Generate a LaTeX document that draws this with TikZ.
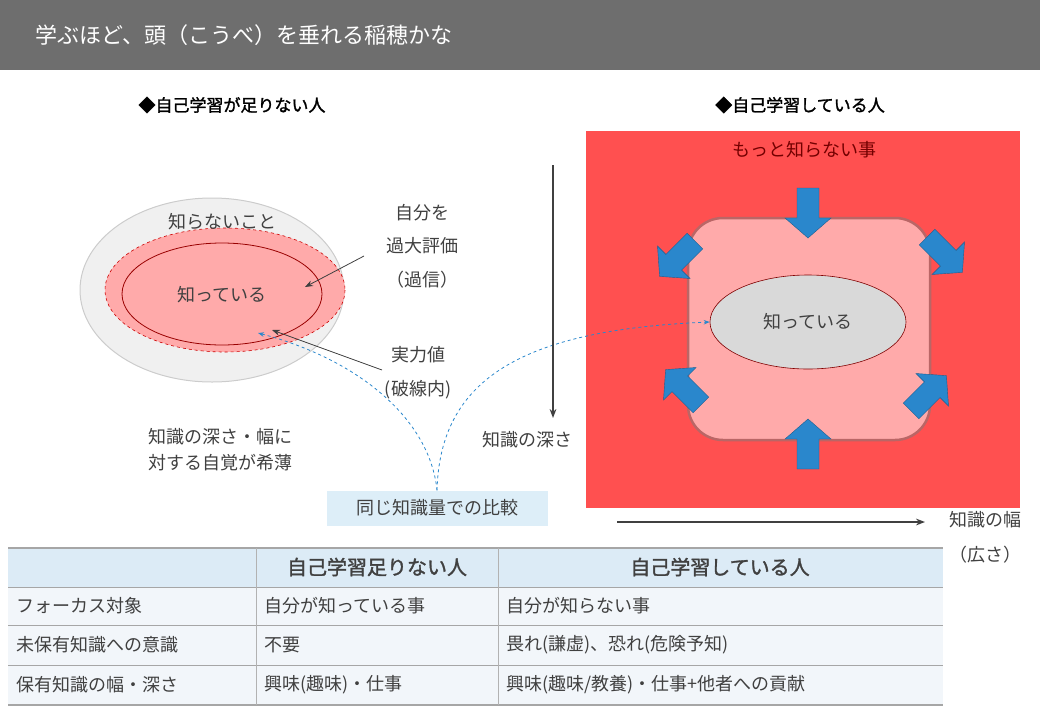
\documentclass[tikz,border=0pt]{standalone}
\usepackage{fontspec}
\setmainfont{Noto Sans CJK JP}
\newfontfamily\jpb[FakeBold=1.5]{Noto Sans CJK JP}
\usetikzlibrary{arrows.meta,shapes.geometric}
\definecolor{hdr}{HTML}{6E6E6E}
\definecolor{txt}{HTML}{404040}
\definecolor{redbg}{HTML}{FF5050}
\definecolor{pinkf}{HTML}{FFAAAA}
\definecolor{blu}{HTML}{2A87CC}
\definecolor{bluebox}{HTML}{DDEEF8}
\definecolor{thead}{HTML}{DCEBF6}
\definecolor{trow}{HTML}{F2F6FA}
\begin{document}
\begin{tikzpicture}[x=1pt,y=-1pt,
  t/.style={text=txt,font=\fontsize{18}{20}\selectfont,inner sep=0pt},
  tb/.style={text=black,font=\jpb\fontsize{17}{20}\selectfont,inner sep=0pt},
  bigarr/.style={fill=blu,draw=blu!70!black,line width=0.4pt},
  dsh/.style={blu,dashed,line width=0.8pt,-{Stealth[length=6pt]}},
  pt/.style={-{Stealth[length=8pt]},line width=0.8pt,txt}]
\useasboundingbox (0,0) rectangle (1040,720);
\fill[hdr] (0,0) rectangle (1040,70);
\node[anchor=west,text=white,font=\fontsize{22}{24}\selectfont,inner sep=0pt] (title) at (35,35) {学ぶほど、頭（こうべ）を垂れる稲穂かな};
\node[tb] (hl) at (232,105) {◆自己学習が足りない人};
\node[tb] (hr) at (800,105) {◆自己学習している人};
% left
\draw[fill=black!6,draw=black!20,line width=1pt] (212,290) ellipse [x radius=132,y radius=92];
\draw[fill=pinkf,draw=red!80!black,dashed,line width=0.6pt] (225,290) ellipse [x radius=120,y radius=62];
\draw[draw=red!60!black,line width=0.8pt] (222,294) ellipse [x radius=100,y radius=51];
\coordinate (pinkedge) at (305,287);
\coordinate (innerpt) at (272,330);
\node[t] (unk) at (222,222) {知らないこと};
\node[t] (kn) at (222,295) {知っている};
\node[t] (a1) at (422,213) {自分を};
\node[t] (a2) at (422,246) {過大評価};
\node[t] (a3) at (422,280) {（過信）};
\node[t] (b1) at (418,355) {実力値};
\node[t] (b2) at (418,390) {(破線内)};
\coordinate (s1) at (364,256);
\coordinate (s2) at (382,370);
\draw[pt] (s1) -- (pinkedge);
\draw[pt] (s2) -- (innerpt);
\node[t,align=center] (c1) at (220,437) {知識の深さ・幅に};
\node[t,align=center] (c2) at (220,463) {対する自覚が希薄};
\node[t,fill=bluebox,minimum width=221pt,minimum height=35pt] (cmp) at (437,508) {同じ知識量での比較};
% right
\fill[redbg] (586,131) rectangle (1020,508);
\node[t,text=red!45!black] (more) at (804,150) {もっと知らない事};
\draw[fill=pinkf,draw=black!45!red!60,line width=2.5pt,rounded corners=35pt] (688,218) rectangle (930,440);
\node[t,draw=black!50!red,fill=black!15,ellipse,minimum width=196pt,minimum height=94pt,line width=0.6pt] (kr) at (808,322) {知っている};
\draw[dsh] (cmp.north) .. controls (430,420) and (360,360) .. (258,333);
\draw[dsh] (cmp.north) .. controls (440,380) and (520,330) .. (kr.west);
\foreach \x/\y/\r in {808/212/-90, 808/445/90, 678/258/-135, 944/254/-45, 684/388/135, 928/394/45}{
  \fill[bigarr,shift={(\x,\y)},rotate=\r] (-24,-11) -- (6,-11) -- (6,-23) -- (26,0) -- (6,23) -- (6,11) -- (-24,11) -- cycle;
}
\coordinate (v0) at (553,165); \coordinate (v1) at (553,418);
\draw[line width=1.8pt,black!75,-{Stealth[length=9pt]}] (v0) -- (v1);
\node[t] (dep) at (527,440) {知識の深さ};
\coordinate (h0) at (617,522); \coordinate (h1) at (925,522);
\draw[line width=1.8pt,black!75,-{Stealth[length=9pt]}] (h0) -- (h1);
\node[t] (wid) at (985,520) {知識の幅};
\node[t] (wid2) at (985,555) {（広さ）};
% table
\fill[thead] (8,548) rectangle (943,587);
\fill[trow] (8,587) rectangle (943,705);
\foreach \y in {587,625,665}{\draw[black!35,line width=1pt] (8,\y) -- (943,\y);}
\draw[black!35,line width=1.5pt] (8,705) -- (943,705);
\draw[black!35,line width=1.5pt] (8,548) -- (943,548);
\foreach \x in {256,498}{\draw[black!30,line width=0.8pt] (\x,548) -- (\x,705);}
\node[tb,text=txt,font=\jpb\fontsize{20}{22}\selectfont] (th1) at (377,567) {自己学習足りない人};
\node[tb,text=txt,font=\jpb\fontsize{20}{22}\selectfont] (th2) at (720,567) {自己学習している人};
\node[t,anchor=west] (r1a) at (16,606) {フォーカス対象};
\node[t,anchor=west] (r1b) at (264,606) {自分が知っている事};
\node[t,anchor=west] (r1c) at (506,606) {自分が知らない事};
\node[t,anchor=west] (r2a) at (16,645) {未保有知識への意識};
\node[t,anchor=west] (r2b) at (264,645) {不要};
\node[t,anchor=west] (r2c) at (506,645) {畏れ(謙虚)、恐れ(危険予知)};
\node[t,anchor=west] (r3a) at (16,685) {保有知識の幅・深さ};
\node[t,anchor=west] (r3b) at (264,685) {興味(趣味)・仕事};
\node[t,anchor=west] (r3c) at (506,685) {興味(趣味/教養)・仕事+他者への貢献};
\end{tikzpicture}
\end{document}
